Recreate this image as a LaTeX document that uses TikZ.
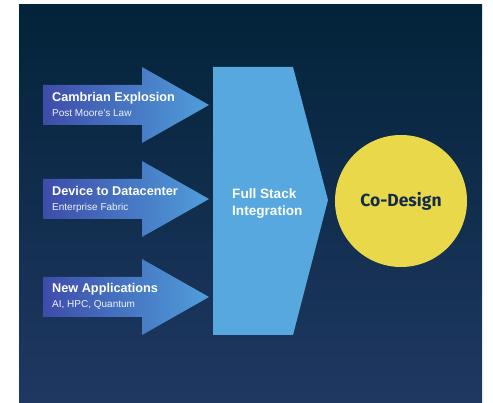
\documentclass[tikz,border=0pt]{standalone}
\usepackage{fontspec}
\setmainfont{Liberation Sans}
\newfontfamily\designfont{Fira Sans}
\usepackage{tikz}

\definecolor{bgtop}{RGB}{3,35,57}
\definecolor{bgbottom}{RGB}{31,56,98}
\definecolor{arrowleft}{RGB}{62,76,170}
\definecolor{arrowright}{RGB}{80,158,218}
\definecolor{stackblue}{RGB}{86,168,222}
\definecolor{designyellow}{RGB}{233,217,74}
\definecolor{designnavy}{RGB}{20,44,74}

\tikzset{
  inarrow/.style={left color=arrowleft, right color=arrowright},
  titletext/.style={anchor=base west, inner sep=0pt, text=white, font=\bfseries\fontsize{12.7}{15}\selectfont},
  subtext/.style={anchor=base west, inner sep=0pt, text=white!88!stackblue, font=\fontsize{10}{12}\selectfont}
}

\begin{document}
\begin{tikzpicture}[x=1pt,y=1pt,yscale=-1,xscale=1]
\useasboundingbox (0,0) rectangle (493,403);
\fill [white] (0,0) rectangle (493,403);

%Background
\shade [top color=bgtop, bottom color=bgbottom] (19,5) rectangle (482,403);

%Shape: Arrow [id:cambrian]
\shade [inarrow] (43,85) -- (142,85) -- (142,67) -- (209,105) -- (142,143) -- (142,125) -- (43,125) -- cycle ;
%Shape: Arrow [id:device]
\shade [inarrow] (43,179) -- (142,179) -- (142,161) -- (209,199) -- (142,237) -- (142,219) -- (43,219) -- cycle ;
%Shape: Arrow [id:apps]
\shade [inarrow] (43,277) -- (142,277) -- (142,259) -- (209,297) -- (142,335) -- (142,317) -- (43,317) -- cycle ;

%Shape: Pentagon [id:stack]
\fill [stackblue] (213,67) -- (293,67) -- (328,200) -- (293,335) -- (213,335) -- cycle ;

%Shape: Circle [id:codesign]
\fill [designyellow] (401,201) circle [radius=66] ;

% Text Node
\node (cambrian) [titletext] at (52,102) {Cambrian Explosion};
% Text Node
\node (moore) [subtext] at (52,117) {Post Moore’s Law};
% Text Node
\node (device) [titletext] at (52,196) {Device to Datacenter};
% Text Node
\node (fabric) [subtext] at (52,211) {Enterprise Fabric};
% Text Node
\node (apps) [titletext] at (52,293) {New Applications};
% Text Node
\node (quantum) [subtext] at (52,308) {AI, HPC, Quantum};
% Text Node
\node (stack) [anchor=west, inner sep=0pt, align=left, text=white, font=\bfseries\fontsize{13.6}{17}\selectfont] at (232,204) {Full Stack\\Integration};
% Text Node
\node (codesign) [inner sep=0pt, text=designnavy, font=\designfont\bfseries\fontsize{17.5}{20}\selectfont] at (401,201) {Co-Design};
\end{tikzpicture}
\end{document}
